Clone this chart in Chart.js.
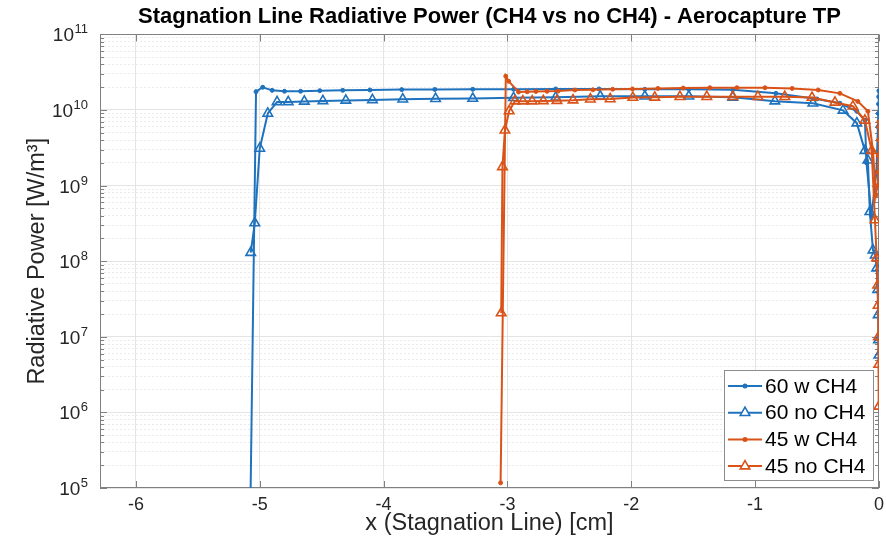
<!DOCTYPE html>
<html>
<head>
    <title>Stagnation Line Radiative Power</title>
    <script src="https://cdn.jsdelivr.net/npm/chart.js"></script>
    <style>
        body {
            margin: 0;
            background: #fff;
        }
        #chart {
            display: block;
        }
    </style>
</head>
<body>
    <canvas id="chart" width="886" height="542"></canvas>

    <script>
        // x positions [cm] and radiative power [W/m^3]
        const x60w = [-5.09, -5.03, -4.976, -4.90, -4.80, -4.67, -4.515, -4.33, -4.11, -3.853, -3.586, -3.28, -2.95, -2.61, -2.26, -1.89, -1.535, -1.18, -0.832, -0.50, -0.315, -0.178, -0.113, -0.10, -0.06, -0.02, -0.008, -0.005, -0.003, -0.0015, 0];
        const y60w = [1e3, 1.75e10, 2.0e10, 1.82e10, 1.77e10, 1.77e10, 1.8e10, 1.82e10, 1.84e10, 1.86e10, 1.87e10, 1.88e10, 1.88e10, 1.9e10, 1.9e10, 1.88e10, 1.88e10, 1.85e10, 1.66e10, 1.4e10, 1.23e10, 9.6e9, 7.3e9, 2e9, 4e8, 1.5e9, 6e9, 9e9, 1.2e10, 1.5e10, 1.8e10];

        const x60n = [-5.073, -5.04, -5.0, -4.935, -4.86, -4.77, -4.64, -4.49, -4.305, -4.09, -3.845, -3.58, -3.28, -2.95, -2.61, -2.25, -1.89, -1.535, -1.18, -0.84, -0.533, -0.29, -0.178, -0.113, -0.089, -0.073, -0.048, -0.03, -0.018, -0.01, -0.006, -0.003, 0];
        const y60n = [1.3e8, 3.2e8, 3.1e9, 9e9, 1.28e10, 1.28e10, 1.3e10, 1.32e10, 1.34e10, 1.36e10, 1.39e10, 1.41e10, 1.42e10, 1.45e10, 1.47e10, 1.52e10, 1.52e10, 1.52e10, 1.47e10, 1.31e10, 1.23e10, 9.9e9, 6.7e9, 2.9e9, 2.16e9, 4.5e8, 1.4e8, 1.2e8, 8.1e7, 4.2e7, 1.95e7, 9.1e6, 5.7e6];

        const x45w = [-3.055, -3.013, -2.99, -2.91, -2.84, -2.77, -2.68, -2.59, -2.455, -2.31, -2.15, -1.99, -1.785, -1.58, -1.365, -1.147, -0.92, -0.70, -0.49, -0.315, -0.17, -0.089, -0.048, -0.024, -0.012, -0.008, -0.005, -0.003, -0.001, 0];
        const y45w = [1.17e5, 2.8e10, 2.4e10, 1.73e10, 1.74e10, 1.76e10, 1.77e10, 1.78e10, 1.84e10, 1.85e10, 1.88e10, 1.9e10, 1.93e10, 1.95e10, 1.97e10, 1.97e10, 1.97e10, 1.93e10, 1.84e10, 1.66e10, 1.3e10, 9.6e9, 2.9e9, 7.5e8, 1e9, 1.5e9, 2.5e9, 4e9, 6e9, 7e9];

        const x45n = [-3.05, -3.04, -3.02, -2.986, -2.94, -2.875, -2.80, -2.71, -2.60, -2.47, -2.33, -2.17, -1.987, -1.81, -1.607, -1.39, -1.18, -0.977, -0.76, -0.54, -0.355, -0.21, -0.113, -0.058, -0.032, -0.018, -0.01, -0.006, -0.003, -0.001, 0];
        const y45n = [2.06e7, 1.77e9, 5.4e9, 9.7e9, 1.31e10, 1.31e10, 1.31e10, 1.32e10, 1.33e10, 1.35e10, 1.39e10, 1.4e10, 1.46e10, 1.47e10, 1.5e10, 1.5e10, 1.5e10, 1.5e10, 1.5e10, 1.46e10, 1.26e10, 1.12e10, 7.3e9, 2.9e9, 3.5e8, 1.1e8, 4.8e7, 2.6e7, 1e7, 4.3e6, 1.2e6];

        const seriesNames = ['60 w CH4', '60 no CH4', '45 w CH4', '45 no CH4'];
        const xTicks = [-6, -5, -4, -3, -2, -1, 0];
        const yExponents = [5, 6, 7, 8, 9, 10, 11];

        const BLUE = '#1f72bd';
        const ORANGE = '#D95319';
        const FONT = "'Liberation Sans', Arial, Helvetica, sans-serif";

        const pts = (xs, ys) => xs.map((x, i) => ({ x: x, y: ys[i] }));

        const yMajor = yExponents.map(e => Math.pow(10, e));
        const yMinor = [];
        for (let e = yExponents[0]; e < yExponents[yExponents.length - 1]; e++) {
            for (let m = 2; m <= 9; m++) yMinor.push(m * Math.pow(10, e));
        }

        function series(label, xs, ys, color, tri, order) {
            return {
                label: label,
                data: pts(xs, ys),
                borderColor: color,
                backgroundColor: tri ? 'rgba(255,255,255,0)' : color,
                borderWidth: 2,
                pointStyle: tri ? 'triangle' : 'circle',
                pointRadius: tri ? 5.5 : 2,
                pointBorderWidth: tri ? 1.6 : 1,
                pointHoverRadius: tri ? 5.5 : 2,
                tension: 0,
                order: order
            };
        }

        // box round the axes plus MATLAB style inward ticks
        const frame = {
            id: 'frame',
            beforeDatasetsDraw(chart) {
                const { ctx, chartArea: a, scales } = chart;
                ctx.save();
                ctx.strokeStyle = '#808080';
                ctx.lineWidth = 1;
                ctx.strokeRect(Math.round(a.left) + 0.5, Math.round(a.top) + 0.5, Math.round(a.width) - 1, Math.round(a.height) - 1);
                ctx.beginPath();
                xTicks.forEach(v => {
                    const px = Math.round(scales.x.getPixelForValue(v)) + 0.5;
                    ctx.moveTo(px, a.bottom); ctx.lineTo(px, a.bottom - 7);
                    ctx.moveTo(px, a.top); ctx.lineTo(px, a.top + 7);
                });
                yMajor.forEach(v => {
                    const py = Math.round(scales.y.getPixelForValue(v)) + 0.5;
                    ctx.moveTo(a.left, py); ctx.lineTo(a.left + 7, py);
                    ctx.moveTo(a.right, py); ctx.lineTo(a.right - 7, py);
                });
                yMinor.forEach(v => {
                    const py = Math.round(scales.y.getPixelForValue(v)) + 0.5;
                    ctx.moveTo(a.left, py); ctx.lineTo(a.left + 4, py);
                    ctx.moveTo(a.right, py); ctx.lineTo(a.right - 4, py);
                });
                ctx.stroke();
                ctx.restore();
            }
        };

        // 10^n labels with a raised exponent, placed at the y scale's own tick positions
        const powerLabels = {
            id: 'powerLabels',
            afterDraw(chart) {
                const { ctx } = chart;
                const y = chart.scales.y;
                const right = y.right - 12;
                ctx.save();
                ctx.fillStyle = '#262626';
                ctx.textAlign = 'right';
                ctx.textBaseline = 'alphabetic';
                yExponents.forEach(e => {
                    const py = y.getPixelForValue(Math.pow(10, e));
                    ctx.font = '13px ' + FONT;
                    const ew = ctx.measureText(String(e)).width;
                    ctx.fillText(String(e), right, py - 1);
                    ctx.font = '19px ' + FONT;
                    ctx.fillText('10', right - ew - 0.5, py + 7);
                });
                ctx.restore();
            }
        };

        // legend box in the lower right corner of the axes
        const cornerLegend = {
            id: 'cornerLegend',
            afterDraw(chart) {
                const { ctx, chartArea: a } = chart;
                const w = 149, h = 110;
                const x0 = Math.round(a.right) - 6 - w, y0 = Math.round(a.bottom) - 8 - h;
                ctx.save();
                ctx.fillStyle = '#fff';
                ctx.fillRect(x0, y0, w, h);
                ctx.strokeStyle = '#8c8c8c';
                ctx.lineWidth = 1;
                ctx.strokeRect(x0 + 0.5, y0 + 0.5, w, h);
                ctx.font = '21px ' + FONT;
                ctx.textBaseline = 'middle';
                chart.data.datasets.forEach((ds, i) => {
                    const cy = y0 + 16 + i * 26.7;
                    const lx = x0 + 4, rx = x0 + 38, mx = (lx + rx) / 2;
                    ctx.strokeStyle = ds.borderColor;
                    ctx.lineWidth = 2;
                    ctx.beginPath();
                    ctx.moveTo(lx, cy); ctx.lineTo(rx, cy);
                    ctx.stroke();
                    ctx.beginPath();
                    if (ds.pointStyle === 'triangle') {
                        const r = ds.pointRadius;
                        ctx.lineWidth = ds.pointBorderWidth;
                        ctx.moveTo(mx, cy - r);
                        ctx.lineTo(mx + r * 0.866, cy + r * 0.5);
                        ctx.lineTo(mx - r * 0.866, cy + r * 0.5);
                        ctx.closePath();
                        ctx.fillStyle = '#fff';
                        ctx.fill();
                        ctx.stroke();
                    } else {
                        ctx.arc(mx, cy, ds.pointRadius + 0.5, 0, Math.PI * 2);
                        ctx.fillStyle = ds.borderColor;
                        ctx.fill();
                    }
                    ctx.fillStyle = '#000';
                    ctx.fillText(ds.label, x0 + 41, cy + 1);
                });
                ctx.restore();
            }
        };

        const ctx = document.getElementById('chart').getContext('2d');
        const chart = new Chart(ctx, {
            type: 'line',
            data: {
                datasets: [
                    series(seriesNames[0], x60w, y60w, BLUE, false, 2),
                    series(seriesNames[1], x60n, y60n, BLUE, true, 3),
                    series(seriesNames[2], x45w, y45w, ORANGE, false, 0),
                    series(seriesNames[3], x45n, y45n, ORANGE, true, 1)
                ]
            },
            options: {
                responsive: false,
                animation: false,
                devicePixelRatio: 1,
                layout: {
                    padding: { left: 0, right: 7, top: 0, bottom: 0 }
                },
                plugins: {
                    legend: { display: false },
                    tooltip: { enabled: false },
                    title: {
                        display: true,
                        fullSize: false,
                        text: 'Stagnation Line Radiative Power (CH4 vs no CH4) - Aerocapture TP',
                        color: '#000',
                        font: { family: FONT, size: 22, weight: 'bold' },
                        padding: { top: 4, bottom: 4 }
                    }
                },
                scales: {
                    x: {
                        type: 'linear',
                        min: -6.29,
                        max: 0,
                        afterBuildTicks: axis => { axis.ticks = xTicks.map(v => ({ value: v })); },
                        afterFit: axis => {
                            axis.height = 54;
                            axis.paddingLeft = 0;
                            axis.paddingRight = 0;
                        },
                        border: { display: false },
                        grid: { color: '#e4e4e4', drawTicks: false },
                        ticks: {
                            color: '#262626',
                            padding: 6,
                            autoSkip: false,
                            maxRotation: 0,
                            font: { family: FONT, size: 18 },
                            callback: v => String(v)
                        },
                        title: {
                            display: true,
                            text: 'x (Stagnation Line) [cm]',
                            color: '#262626',
                            font: { family: FONT, size: 23.5 },
                            padding: { top: 0, bottom: 4 }
                        }
                    },
                    y: {
                        type: 'logarithmic',
                        position: 'left',
                        min: 1e5,
                        max: 1e11,
                        afterBuildTicks: axis => { axis.ticks = yMajor.map(v => ({ value: v })); },
                        afterFit: axis => { axis.width = 100; },
                        border: { display: false },
                        grid: { color: '#e4e4e4', drawTicks: false },
                        ticks: { display: false },
                        title: {
                            display: true,
                            text: 'Radiative Power [W/m³]',
                            color: '#262626',
                            font: { family: FONT, size: 23.5 },
                            padding: { top: 23, bottom: 0 }
                        }
                    },
                    yMinor: {
                        type: 'logarithmic',
                        position: 'left',
                        min: 1e5,
                        max: 1e11,
                        afterBuildTicks: axis => { axis.ticks = yMinor.map(v => ({ value: v })); },
                        afterFit: axis => { axis.width = 0; },
                        border: { display: false, dash: [2, 2] },
                        grid: { color: '#ebebeb', drawTicks: false },
                        ticks: { display: false }
                    }
                }
            },
            plugins: [frame, powerLabels, cornerLegend]
        });
    </script>
</body>
</html>
